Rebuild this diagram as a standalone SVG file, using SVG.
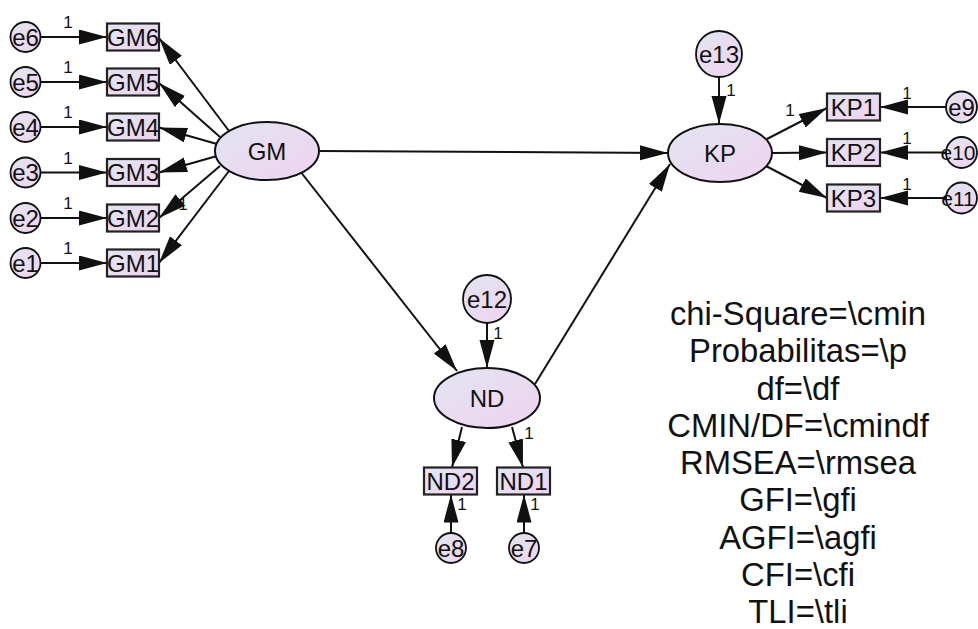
<svg xmlns="http://www.w3.org/2000/svg" width="978" height="629" viewBox="0 0 978 629">
<style>
.lat{stroke:#111;stroke-width:2;fill:url(#g)}
.box{stroke:#222;stroke-width:2.2;fill:url(#g)}
.err{stroke:#111;stroke-width:1.8;fill:url(#g)}
.lbl{font-family:"Liberation Sans",Arial,sans-serif;font-size:24px;fill:#111;text-anchor:middle}
.sm{font-size:21px}
.one{font-family:"Liberation Sans",Arial,sans-serif;font-size:17px;fill:#111;text-anchor:middle}
.fit{font-family:"Liberation Sans",Arial,sans-serif;font-size:32.8px;fill:#111;text-anchor:middle}
.c{stroke:#111;stroke-width:2;fill:none;marker-end:url(#ah)}
</style>
<defs>
<linearGradient id="g" x1="0" y1="0" x2="1" y2="1">
<stop offset="0" stop-color="#e2e5f1"/>
<stop offset="1" stop-color="#efd3f0"/>
</linearGradient>
<marker id="ah" markerUnits="userSpaceOnUse" markerWidth="30" markerHeight="16" refX="28" refY="7.5" orient="auto">
<path d="M0,0 L28,7.5 L0,15 z" fill="#111"/>
</marker>
</defs>
<rect width="978" height="629" fill="#fff"/>
<g id="connectors">
<line class="c" x1="40.5" y1="37" x2="107" y2="37"/>
<line class="c" x1="40.5" y1="82" x2="107" y2="82"/>
<line class="c" x1="40.5" y1="127" x2="107" y2="127"/>
<line class="c" x1="40.5" y1="172.5" x2="107" y2="172.5"/>
<line class="c" x1="40.5" y1="218" x2="107" y2="218"/>
<line class="c" x1="40.5" y1="263" x2="107" y2="263"/>
<line class="c" x1="229" y1="131" x2="159" y2="38"/>
<line class="c" x1="220" y1="137" x2="159" y2="83"/>
<line class="c" x1="217" y1="144" x2="159" y2="127.5"/>
<line class="c" x1="217" y1="156" x2="159" y2="172.5"/>
<line class="c" x1="220" y1="166" x2="159" y2="218"/>
<line class="c" x1="229" y1="171" x2="159" y2="263"/>
<line class="c" x1="318" y1="151" x2="668" y2="153"/>
<line class="c" x1="300" y1="171" x2="457" y2="371"/>
<line class="c" x1="535" y1="384" x2="670" y2="164"/>
<line class="c" x1="719" y1="77" x2="719" y2="124"/>
<line class="c" x1="765" y1="140" x2="827" y2="108"/>
<line class="c" x1="771" y1="153" x2="827" y2="152.5"/>
<line class="c" x1="766" y1="166" x2="827" y2="198"/>
<line class="c" x1="946" y1="107" x2="880" y2="107"/>
<line class="c" x1="946" y1="152.5" x2="880" y2="152.5"/>
<line class="c" x1="946" y1="198" x2="880" y2="198"/>
<line class="c" x1="487" y1="323" x2="487" y2="368"/>
<line class="c" x1="462" y1="427" x2="452" y2="467.5"/>
<line class="c" x1="512" y1="427" x2="523" y2="467.5"/>
<line class="c" x1="451" y1="533" x2="451" y2="494.5"/>
<line class="c" x1="524" y1="533" x2="524" y2="494.5"/>
<text class="one" x="68" y="28">1</text>
<text class="one" x="68" y="73">1</text>
<text class="one" x="68" y="118">1</text>
<text class="one" x="68" y="163.5">1</text>
<text class="one" x="68" y="209">1</text>
<text class="one" x="68" y="254">1</text>
<text class="one" x="183" y="210">1</text>
<text class="one" x="731" y="96">1</text>
<text class="one" x="790" y="116">1</text>
<text class="one" x="907" y="99">1</text>
<text class="one" x="907" y="144">1</text>
<text class="one" x="907" y="190">1</text>
<text class="one" x="498" y="339">1</text>
<text class="one" x="529" y="439">1</text>
<text class="one" x="462" y="510">1</text>
<text class="one" x="535" y="510">1</text>
</g>
<g id="GM"><ellipse class="lat" cx="267" cy="151" rx="52" ry="29"/><text class="lbl" x="267" y="159.5">GM</text></g>
<g id="KP"><ellipse class="lat" cx="720" cy="153" rx="52" ry="29"/><text class="lbl" x="720" y="161.5">KP</text></g>
<g id="ND"><ellipse class="lat" cx="487" cy="398" rx="53" ry="30"/><text class="lbl" x="487" y="406.5">ND</text></g>
<g id="GM6"><rect class="box" x="107" y="23.5" width="52" height="27"/><text class="lbl" x="133" y="45.5">GM6</text></g>
<g id="GM5"><rect class="box" x="107" y="68.5" width="52" height="27"/><text class="lbl" x="133" y="90.5">GM5</text></g>
<g id="GM4"><rect class="box" x="107" y="113.5" width="52" height="27"/><text class="lbl" x="133" y="135.5">GM4</text></g>
<g id="GM3"><rect class="box" x="107" y="159" width="52" height="27"/><text class="lbl" x="133" y="181">GM3</text></g>
<g id="GM2"><rect class="box" x="107" y="204.5" width="52" height="27"/><text class="lbl" x="133" y="226.5">GM2</text></g>
<g id="GM1"><rect class="box" x="107" y="249.5" width="52" height="27"/><text class="lbl" x="133" y="271.5">GM1</text></g>
<g id="KP1"><rect class="box" x="827" y="93.5" width="53" height="27"/><text class="lbl" x="853.5" y="115.5">KP1</text></g>
<g id="KP2"><rect class="box" x="827" y="139" width="53" height="27"/><text class="lbl" x="853.5" y="161">KP2</text></g>
<g id="KP3"><rect class="box" x="827" y="184.5" width="53" height="27"/><text class="lbl" x="853.5" y="206.5">KP3</text></g>
<g id="ND2"><rect class="box" x="424" y="467.5" width="53" height="27"/><text class="lbl" x="450.5" y="489.5">ND2</text></g>
<g id="ND1"><rect class="box" x="497" y="467.5" width="53" height="27"/><text class="lbl" x="523.5" y="489.5">ND1</text></g>
<g id="e6"><circle class="err" cx="25.5" cy="37" r="15"/><text class="lbl" x="25.5" y="45.5">e6</text></g>
<g id="e5"><circle class="err" cx="25.5" cy="82" r="15"/><text class="lbl" x="25.5" y="90.5">e5</text></g>
<g id="e4"><circle class="err" cx="25.5" cy="127" r="15"/><text class="lbl" x="25.5" y="135.5">e4</text></g>
<g id="e3"><circle class="err" cx="25.5" cy="172.5" r="15"/><text class="lbl" x="25.5" y="181">e3</text></g>
<g id="e2"><circle class="err" cx="25.5" cy="218" r="15"/><text class="lbl" x="25.5" y="226.5">e2</text></g>
<g id="e1"><circle class="err" cx="25.5" cy="263" r="15"/><text class="lbl" x="25.5" y="271.5">e1</text></g>
<g id="e13"><circle class="err" cx="719" cy="54" r="23"/><text class="lbl" x="719" y="62.5">e13</text></g>
<g id="e12"><circle class="err" cx="487" cy="299" r="24"/><text class="lbl" x="487" y="307.5">e12</text></g>
<g id="e9"><circle class="err" cx="961.5" cy="107" r="15.5"/><text class="lbl" x="961.5" y="115.5">e9</text></g>
<g id="e10"><circle class="err" cx="961.5" cy="152.5" r="15.5"/><text class="lbl sm" x="958" y="160">e10</text></g>
<g id="e11"><circle class="err" cx="961.5" cy="198" r="15.5"/><text class="lbl sm" x="958" y="205.5">e11</text></g>
<g id="e8"><circle class="err" cx="451" cy="548" r="15"/><text class="lbl" x="451" y="556.5">e8</text></g>
<g id="e7"><circle class="err" cx="524" cy="548" r="15"/><text class="lbl" x="524" y="556.5">e7</text></g>
<g id="fit">
<text class="fit" x="798" y="325">chi-Square=\cmin</text>
<text class="fit" x="798" y="362.25">Probabilitas=\p</text>
<text class="fit" x="798" y="399.5">df=\df</text>
<text class="fit" x="798" y="436.75">CMIN/DF=\cmindf</text>
<text class="fit" x="798" y="474">RMSEA=\rmsea</text>
<text class="fit" x="798" y="511.25">GFI=\gfi</text>
<text class="fit" x="798" y="548.5">AGFI=\agfi</text>
<text class="fit" x="798" y="585.75">CFI=\cfi</text>
<text class="fit" x="798" y="623">TLI=\tli</text>
</g>
</svg>
